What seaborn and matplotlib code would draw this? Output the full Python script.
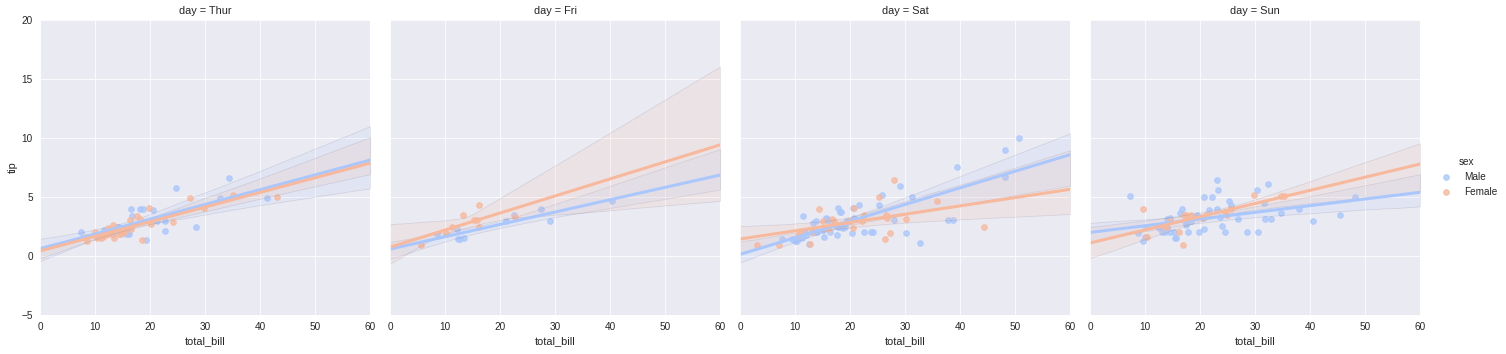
import numpy as np
import pandas as pd
import seaborn as sns
import matplotlib.pyplot as plt
from matplotlib.collections import PolyCollection

# values (tips-like data)
days = ["Thur", "Fri", "Sat", "Sun"]
sexes = ["Male", "Female"]

thur_male_bill = [7.5, 11.6, 12.0, 13.2, 14.0, 14.4, 15.6, 16.1, 16.0, 16.6, 16.8, 18.2, 18.7,
                  19.2, 20.6, 21.2, 22.8, 22.8, 24.8, 28.4, 32.7, 34.4, 41.3, 10.3, 12.7, 14.8]
thur_male_tip = [2.0, 2.23, 2.0, 1.9, 2.5, 2.46, 1.9, 1.9, 2.0, 3.95, 3.36, 3.95, 3.95,
                 1.38, 3.93, 2.97, 2.97, 2.1, 5.8, 2.46, 4.94, 6.64, 4.94, 1.7, 2.2, 2.0]
thur_female_bill = [8.3, 8.6, 10.4, 11.0, 11.5, 12.0, 12.4, 12.8, 13.2, 13.5, 14.4, 14.7, 15.0, 16.4,
                    16.5, 17.6, 18.2, 18.6, 19.8, 20.2, 24.1, 27.2, 29.8, 35.0, 43.1, 10.0, 13.0, 15.5]
thur_female_tip = [1.6, 1.24, 1.5, 1.5, 1.6, 1.8, 2.4, 1.9, 2.65, 1.55, 1.9, 1.9, 2.1, 3.08,
                   2.3, 3.4, 3.16, 1.33, 4.1, 2.74, 2.9, 4.94, 4.1, 5.14, 5.0, 2.0, 2.0, 2.0]

fri_male_bill = [8.6, 12.1, 12.3, 12.7, 13.4, 21.1, 22.6, 27.5, 29.1, 40.4]
fri_male_tip = [1.83, 2.25, 1.46, 1.46, 1.55, 3.0, 3.5, 4.0, 3.0, 4.7]
fri_female_bill = [5.7, 10.1, 11.3, 13.3, 15.3, 15.9, 16.2, 16.2, 22.8]
fri_female_tip = [0.96, 1.97, 2.5, 3.5, 3.04, 3.04, 4.28, 2.5, 3.3]

sat_male_bill = [7.7, 9.5, 10.0, 10.4, 10.8, 11.3, 11.5, 11.8, 12.6, 13.0, 13.2, 13.6, 13.9, 15.0,
                 15.3, 15.6, 15.8, 16.3, 17.0, 17.6, 17.8, 17.9, 18.1, 18.2, 18.4, 18.8, 19.5,
                 20.0, 20.3, 20.5, 20.8, 21.7, 22.6, 23.8, 24.2, 25.2, 25.9, 28.0, 29.0, 30.2,
                 31.2, 32.8, 37.9, 38.7, 39.4, 48.2, 48.2, 50.8, 14.0, 16.0, 19.0, 12.0]
sat_male_tip = [1.46, 1.46, 1.24, 1.24, 1.6, 1.5, 3.43, 2.0, 1.0, 2.0, 2.76, 2.0, 3.0, 2.2,
                1.63, 3.2, 3.1, 2.0, 2.6, 1.75, 2.5, 4.08, 2.5, 3.75, 3.7, 2.4, 3.0,
                3.0, 1.97, 4.08, 3.2, 4.28, 2.0, 2.0, 2.0, 4.28, 5.2, 3.04, 5.97, 1.97,
                5.0, 1.13, 3.04, 3.04, 7.55, 9.0, 6.7, 10.0, 2.0, 3.0, 2.5, 1.8]
sat_female_bill = [3.0, 7.1, 10.5, 11.0, 12.7, 13.0, 14.3, 15.1, 16.0, 16.8, 17.0, 20.0, 20.6,
                   20.7, 22.1, 22.5, 25.2, 26.4, 26.5, 26.8, 27.2, 28.0, 30.1, 35.8, 44.3]
sat_female_tip = [0.96, 0.96, 1.8, 2.0, 1.05, 2.0, 4.0, 3.0, 2.3, 3.1, 3.0, 3.0, 2.4,
                  4.08, 2.93, 3.5, 5.0, 1.46, 3.44, 3.2, 1.97, 6.46, 3.1, 4.7, 2.5]

sun_male_bill = [7.2, 8.7, 9.6, 10.0, 10.1, 12.6, 13.0, 13.7, 14.5, 15.2, 14.0, 14.6, 14.0, 15.4,
                 15.7, 16.3, 16.8, 17.4, 17.5, 17.8, 18.4, 19.4, 19.8, 20.7, 20.7, 21.6, 22.2,
                 23.0, 23.2, 23.1, 23.7, 24.0, 24.5, 25.3, 25.6, 26.9, 28.5, 30.3, 30.5, 31.6,
                 31.8, 32.4, 32.9, 34.7, 38.0, 40.6, 45.5, 48.2]
sun_male_tip = [5.1, 1.97, 1.3, 1.58, 2.5, 2.4, 2.0, 2.0, 2.0, 2.0, 3.1, 3.24, 2.5, 1.5,
                1.5, 3.66, 4.0, 2.76, 2.6, 2.0, 2.96, 3.5, 2.0, 5.0, 2.25, 3.94, 5.0,
                6.48, 5.63, 4.0, 3.3, 2.56, 2.0, 4.67, 4.28, 3.1, 2.05, 5.63, 2.0, 4.5,
                3.15, 6.06, 3.1, 3.66, 4.0, 3.0, 3.5, 5.0]
sun_female_bill = [9.6, 10.4, 13.2, 14.6, 16.2, 16.9, 17.0, 17.4, 18.3, 21.0, 24.6, 25.7, 29.8,
                   34.8, 35.2, 13.8, 20.5, 24.9]
sun_female_tip = [4.0, 1.63, 2.65, 2.96, 2.0, 0.96, 3.5, 3.5, 3.5, 3.44, 3.72, 4.0, 5.13,
                  5.1, 5.1, 2.5, 3.2, 3.5]

groups = [
    ("Thur", "Male", thur_male_bill, thur_male_tip),
    ("Thur", "Female", thur_female_bill, thur_female_tip),
    ("Fri", "Male", fri_male_bill, fri_male_tip),
    ("Fri", "Female", fri_female_bill, fri_female_tip),
    ("Sat", "Male", sat_male_bill, sat_male_tip),
    ("Sat", "Female", sat_female_bill, sat_female_tip),
    ("Sun", "Male", sun_male_bill, sun_male_tip),
    ("Sun", "Female", sun_female_bill, sun_female_tip),
]
frames = [pd.DataFrame({"total_bill": b, "tip": t, "sex": s, "day": d}) for d, s, b, t in groups]
tips = pd.concat(frames, ignore_index=True)

sns.set_style("darkgrid")
plt.rcParams["font.family"] = ["Liberation Sans", "DejaVu Sans"]
plt.rcParams["text.color"] = ".15"
plt.rcParams["axes.labelcolor"] = ".15"
plt.rcParams["xtick.color"] = ".15"
plt.rcParams["ytick.color"] = ".15"
plt.rcParams["xtick.labelsize"] = 10
plt.rcParams["ytick.labelsize"] = 10
plt.rcParams["axes.labelsize"] = 11
plt.rcParams["axes.titlesize"] = 11.5
plt.rcParams["legend.fontsize"] = 10
plt.rcParams["legend.title_fontsize"] = 10

g = sns.lmplot(data=tips, x="total_bill", y="tip", col="day", hue="sex",
               col_order=days, hue_order=sexes, palette="coolwarm",
               height=4.9, aspect=1, truncate=False, seed=0,
               scatter_kws=dict(s=32), line_kws=dict(lw=3),
               facet_kws=dict(xlim=(0, 60), ylim=(-5, 20)))
g.set(xticks=range(0, 61, 10), yticks=range(-5, 21, 5))

# faint outline on the confidence bands, like the reference
for ax in g.axes.flat:
    for coll in ax.collections:
        if isinstance(coll, PolyCollection):
            coll.set_edgecolor((0.35, 0.35, 0.45))
            coll.set_linewidth(0.8)

fig = g.figure
fig.set_size_inches(1506 / 72, 354 / 72)
fig.subplots_adjust(left=40 / 1506, right=1420 / 1506, bottom=1 - 315 / 354,
                    top=1 - 20 / 354, wspace=20 / 330)
fig.savefig("out.png", dpi=72)
